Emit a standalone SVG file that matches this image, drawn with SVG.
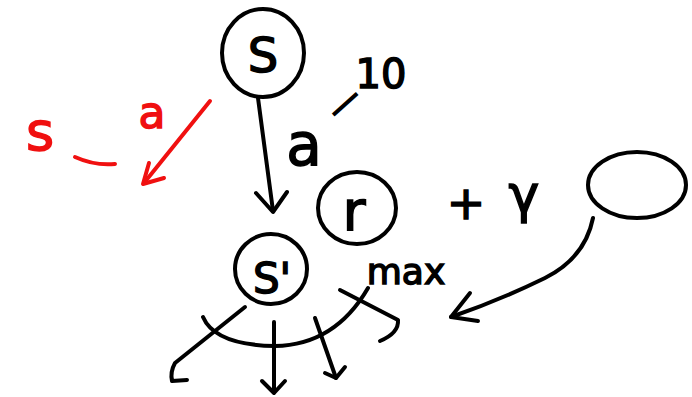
<svg xmlns="http://www.w3.org/2000/svg" width="692" height="397" viewBox="0 0 692 397">
<defs>
<style>
.ln{fill:none;stroke:#000;stroke-width:4;stroke-linecap:round;stroke-linejoin:round}
.rd{fill:none;stroke:#f01010;stroke-width:4;stroke-linecap:round;stroke-linejoin:round}
.t{font-family:"DejaVu Sans","Liberation Sans",sans-serif;fill:#000;stroke:#000;stroke-width:1.5;text-anchor:middle}
.tr{font-family:"DejaVu Sans","Liberation Sans",sans-serif;fill:#f01010;stroke:#f01010;stroke-width:1.5;text-anchor:middle}
</style>
</defs>
<rect width="692" height="397" fill="#fff"/>
<g id="node-s">
<ellipse class="ln" cx="263" cy="53" rx="41" ry="44"/>
<text class="t" x="263" y="72" font-size="48">S</text>
</g>
<g id="node-s-prime">
<ellipse class="ln" cx="271" cy="269" rx="36" ry="35"/>
<text class="t" x="272" y="293" font-size="42">S'</text>
</g>
<g id="node-r">
<ellipse class="ln" cx="357" cy="208" rx="39" ry="36"/>
<text class="t" x="354" y="230" font-size="56">r</text>
</g>
<g id="node-next">
<ellipse class="ln" cx="637" cy="185" rx="49" ry="33"/>
</g>
<g id="labels">
<text class="t" x="304" y="165" font-size="58">a</text>
<text class="t" x="344" y="114" font-size="34" transform="rotate(-42 344 103)">—</text>
<text class="t" x="381" y="88" font-size="40">10</text>
<text class="t" x="406" y="284" font-size="36">max</text>
<text class="t" x="466" y="219" font-size="46">+</text>
<text class="t" x="524" y="212" font-size="52">γ</text>
<text class="tr" x="40" y="150" font-size="54">s</text>
<text class="tr" x="152" y="128" font-size="44">a</text>
</g>
<g id="connectors">
<path class="ln" d="M258,98 L273,211"/>
<path class="ln" d="M256,193 L273,212 L287,192"/>
<path class="rd" d="M210,101 L144,183"/>
<path class="rd" d="M149,163 L143,184 L164,178"/>
<path class="rd" d="M75,157 Q95,166 115,164"/>
<path class="ln" d="M593,218 Q585,258 545,278 Q500,300 451,317"/>
<path class="ln" d="M470,293 L451,317 L478,321"/>
<path class="ln" d="M203,317 Q215,345 275,346 Q335,345 368,288"/>
<path class="ln" d="M245,307 L175,363 Q170,372 172,381 L187,380"/>
<path class="ln" d="M274,322 L274,392"/>
<path class="ln" d="M262,381 L274,393 L285,381"/>
<path class="ln" d="M315,318 L336,378"/>
<path class="ln" d="M325,373 L336,378 L345,367"/>
<path class="ln" d="M340,290 L398,320 Q399,333 380,341"/>
</g>
</svg>
